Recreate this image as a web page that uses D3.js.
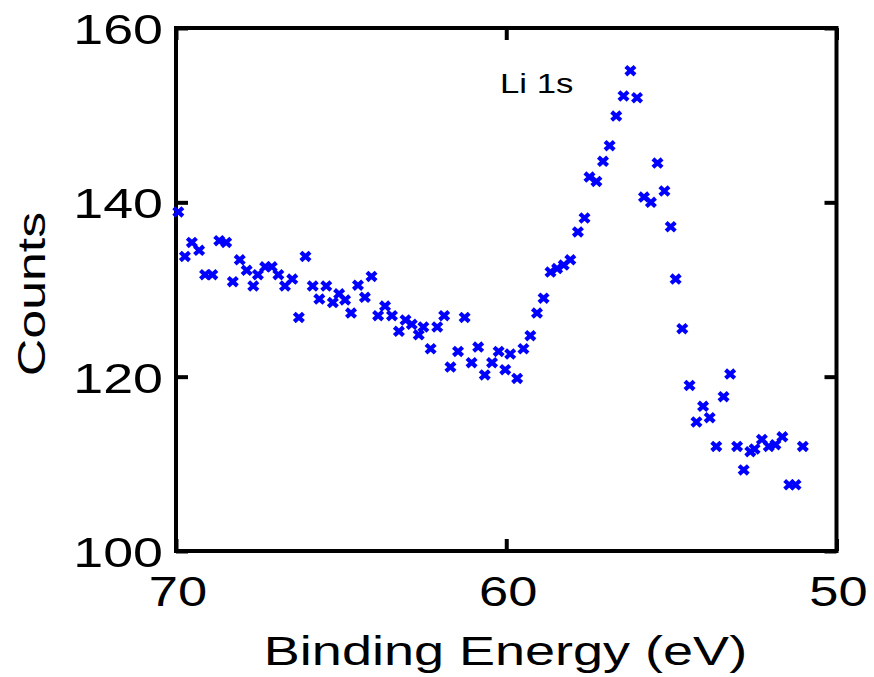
<!DOCTYPE html>
<meta charset="utf-8">
<style>
body { margin: 0; background: #fff; }
svg text { font-family: "Liberation Sans", Arial, sans-serif; fill: #000; }
.tick line { stroke: #000; stroke-width: 4px; }
.domain { display: none; }
</style>
<body>
<svg id="chart" width="874" height="677"></svg>
<script src="https://cdnjs.cloudflare.com/ajax/libs/d3/7.8.5/d3.min.js"></script>
<script>

// Li 1s spectrum
var energy = [69.93, 69.73, 69.52, 69.30, 69.12, 68.90, 68.69, 68.48, 68.28, 68.07,
  67.86, 67.66, 67.52, 67.30, 67.10, 66.90, 66.70, 66.48, 66.28, 66.08,
  65.86, 65.66, 65.45, 65.25, 65.06, 64.88, 64.70, 64.49, 64.28, 64.08,
  63.88, 63.67, 63.46, 63.25, 63.05, 62.86, 62.65, 62.51, 62.29, 62.09,
  61.88, 61.69, 61.46, 61.26, 61.05, 60.85, 60.65, 60.43, 60.23, 60.03,
  59.88, 59.67, 59.48, 59.27, 59.07, 58.87, 58.66, 58.46, 58.26, 58.06,
  57.83, 57.63, 57.48, 57.27, 57.07, 56.87, 56.67, 56.45, 56.24, 56.04,
  55.83, 55.62, 55.42, 55.21, 55.02, 54.87, 54.67, 54.45, 54.24, 54.04,
  53.84, 53.64, 53.42, 53.22, 53.01, 52.81, 52.61, 52.48, 52.26, 52.05,
  51.85, 51.64, 51.43, 51.24, 51.02];
var counts = [138.9, 133.8, 135.4, 134.5, 131.7, 131.7, 135.6, 135.4, 130.9, 133.4,
  132.2, 130.4, 131.7, 132.6, 132.6, 131.7, 130.4, 131.2, 126.8, 133.8,
  130.4, 128.9, 130.4, 128.5, 129.5, 128.8, 127.3, 130.5, 129.1, 131.5,
  127.0, 128.1, 127.0, 125.2, 126.5, 126.0, 124.8, 125.7, 123.2, 125.7,
  127.0, 121.1, 122.9, 126.8, 121.6, 123.4, 120.2, 121.6, 122.9, 120.8,
  122.6, 119.8, 123.2, 124.7, 127.3, 129.0, 132.0, 132.4, 132.8, 133.4,
  136.6, 138.2, 142.9, 142.4, 144.7, 146.5, 149.9, 152.2, 155.1, 152.0,
  140.6, 140.0, 144.5, 141.3, 137.2, 131.2, 125.5, 119.0, 114.8, 116.6,
  115.3, 112.0, 117.7, 120.3, 112.0, 109.3, 111.4, 111.7, 112.8, 112.0,
  112.2, 113.1, 107.6, 107.6, 112.0];

var xTicks = [70, 60, 50];
var yTicks = [100, 120, 140, 160];
var xTitle = "Binding Energy (eV)";
var yTitle = "Counts";
var peakLabel = "Li 1s";

var svg = d3.select("#chart");
var box = {left: 176, right: 836.5, top: 28, bottom: 551};

var x = d3.scaleLinear().domain([70, 50]).range([box.left, box.right]);
var y = d3.scaleLinear().domain([100, 160]).range([box.bottom, box.top]);

// stretch text along its run so glyphs look as wide as in the picture
function stretch(sel, k) {
  sel.each(function() {
    var w = this.getComputedTextLength();
    d3.select(this).attr("textLength", w * k).attr("lengthAdjust", "spacingAndGlyphs");
  });
}

// ticks point inward on all four sides
svg.append("g").attr("transform", "translate(0," + box.bottom + ")")
  .call(d3.axisBottom(x).tickValues(xTicks).tickSizeInner(-12).tickSizeOuter(0).tickFormat(""));
svg.append("g").attr("transform", "translate(0," + box.top + ")")
  .call(d3.axisTop(x).tickValues(xTicks).tickSizeInner(-12).tickSizeOuter(0).tickFormat(""));
svg.append("g").attr("transform", "translate(" + box.left + ",0)")
  .call(d3.axisLeft(y).tickValues(yTicks).tickSizeInner(-12).tickSizeOuter(0).tickFormat(""));
svg.append("g").attr("transform", "translate(" + box.right + ",0)")
  .call(d3.axisRight(y).tickValues(yTicks).tickSizeInner(-12).tickSizeOuter(0).tickFormat(""));

svg.append("rect")
  .attr("x", box.left).attr("y", box.top)
  .attr("width", box.right - box.left).attr("height", box.bottom - box.top)
  .attr("fill", "none").attr("stroke", "#000").attr("stroke-width", 4);

svg.selectAll(".xlab").data(xTicks).enter().append("text")
  .attr("class", "xlab")
  .attr("x", function(d) { return x(d) + 2; })
  .attr("y", box.bottom + 55)
  .attr("text-anchor", "middle")
  .style("font-size", "43px")
  .text(function(d) { return d; })
  .call(stretch, 1.22);

svg.selectAll(".ylab").data(yTicks).enter().append("text")
  .attr("class", "ylab")
  .attr("x", box.left - 13)
  .attr("y", function(d) { return y(d) + 16; })
  .attr("text-anchor", "end")
  .style("font-size", "43px")
  .text(function(d) { return d; })
  .call(stretch, 1.25);

svg.append("text")
  .attr("x", 505.5).attr("y", 665)
  .attr("text-anchor", "middle")
  .style("font-size", "40px")
  .text(xTitle)
  .call(stretch, 1.35);

svg.append("text")
  .attr("transform", "translate(45,294) rotate(-90)")
  .attr("text-anchor", "middle")
  .style("font-size", "39px")
  .text(yTitle)
  .call(stretch, 1.33);

svg.append("text")
  .attr("x", 500).attr("y", 93)
  .style("font-size", "28px")
  .text(peakLabel)
  .call(stretch, 1.24);

var pts = energy.map(function(e, i) { return {e: e, c: counts[i]}; });

svg.selectAll(".pt").data(pts).enter().append("path")
  .attr("class", "pt")
  .attr("transform", function(d) { return "translate(" + x(d.e) + "," + y(d.c) + ")"; })
  .attr("d", "M-4.6,-4.2L4.6,4.2M-4.6,4.2L4.6,-4.2")
  .attr("stroke", "#0000ff")
  .attr("stroke-width", 4.2)
  .attr("fill", "none");

</script>
</body>
